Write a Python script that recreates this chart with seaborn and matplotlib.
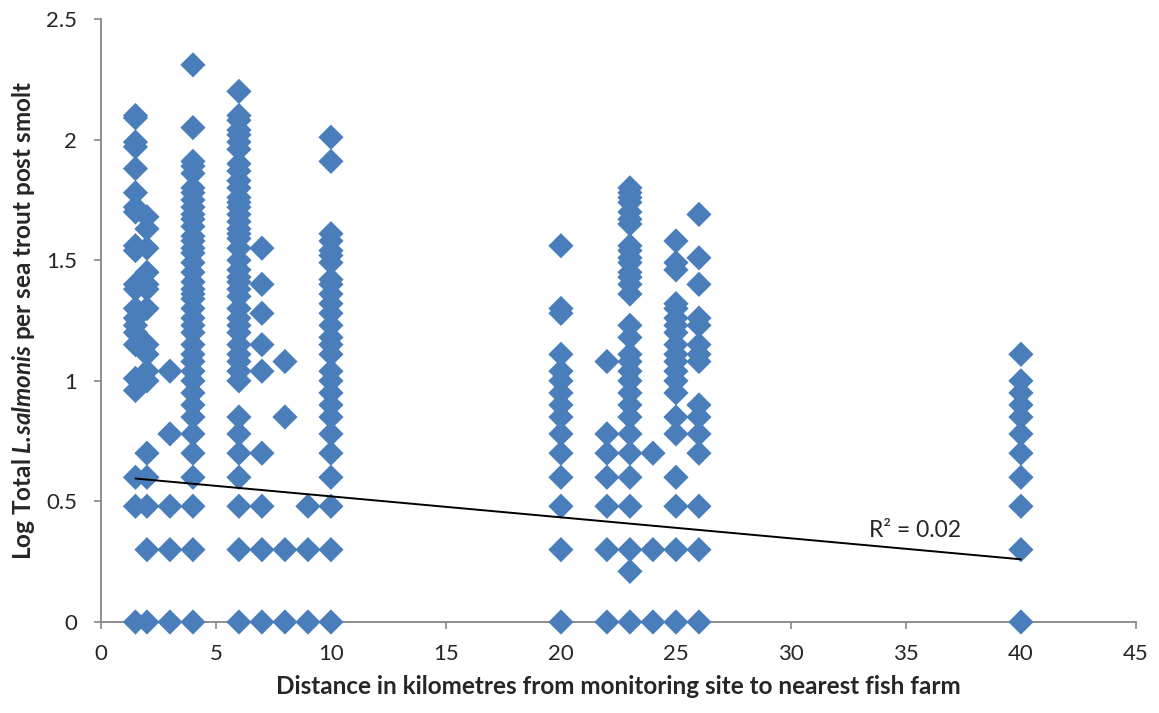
import numpy as np
import pandas as pd
import matplotlib
matplotlib.use("Agg")
import matplotlib.pyplot as plt
import seaborn as sns

# log total lice per fish, grouped by distance (km) to nearest farm
y_1p5 = [2.10, 2.09, 1.99, 1.97, 1.88, 1.78, 1.72, 1.70, 1.56, 1.54, 1.40, 1.38,
         1.30, 1.26, 1.23, 1.20, 1.15, 1.01, 0.96, 0.60, 0.48, 0.0]
y_2 = [1.68, 1.63, 1.55, 1.45, 1.40, 1.38, 1.30, 1.15, 1.11, 1.04, 1.00, 0.70,
       0.60, 0.48, 0.30, 0.0]
y_3 = [1.04, 0.78, 0.48, 0.30, 0.0]
y_4 = [2.31, 2.05, 1.91, 1.89, 1.86, 1.80, 1.78, 1.75, 1.72, 1.69, 1.67, 1.64,
       1.60, 1.58, 1.55, 1.53, 1.49, 1.45, 1.41, 1.38, 1.36, 1.34, 1.30, 1.26,
       1.23, 1.20, 1.15, 1.11, 1.08, 1.04, 1.00, 0.95, 0.90, 0.85, 0.78, 0.70,
       0.60, 0.48, 0.30, 0.0]
y_6 = [2.20, 2.10, 2.08, 2.04, 2.02, 1.99, 1.96, 1.90, 1.87, 1.83, 1.80, 1.76,
       1.74, 1.72, 1.69, 1.66, 1.63, 1.61, 1.59, 1.55, 1.50, 1.46, 1.43, 1.41,
       1.38, 1.35, 1.30, 1.26, 1.23, 1.20, 1.15, 1.11, 1.08, 1.04, 1.00, 0.85,
       0.78, 0.70, 0.60, 0.48, 0.30, 0.0]
y_7 = [1.55, 1.40, 1.28, 1.15, 1.04, 0.70, 0.48, 0.30, 0.0]
y_8 = [1.08, 0.85, 0.30, 0.0]
y_9 = [0.48, 0.30, 0.0]
y_10 = [2.01, 1.91, 1.61, 1.58, 1.54, 1.52, 1.49, 1.42, 1.40, 1.36, 1.32, 1.28,
        1.23, 1.18, 1.15, 1.11, 1.04, 1.00, 0.95, 0.90, 0.85, 0.78, 0.70, 0.60,
        0.48, 0.30, 0.0]
y_20 = [1.56, 1.30, 1.28, 1.11, 1.04, 1.00, 0.95, 0.90, 0.85, 0.78, 0.70, 0.60,
        0.48, 0.30, 0.0]
y_22 = [1.08, 0.78, 0.70, 0.60, 0.48, 0.30, 0.0]
y_23 = [1.80, 1.78, 1.76, 1.74, 1.70, 1.67, 1.65, 1.56, 1.54, 1.51, 1.49, 1.45,
        1.43, 1.40, 1.36, 1.23, 1.18, 1.11, 1.08, 1.04, 1.00, 0.95, 0.90, 0.85,
        0.78, 0.70, 0.60, 0.48, 0.30, 0.21, 0.0]
y_24 = [0.70, 0.30, 0.0]
y_25 = [1.58, 1.49, 1.46, 1.32, 1.30, 1.26, 1.23, 1.20, 1.15, 1.11, 1.08, 1.04,
        1.00, 0.95, 0.85, 0.78, 0.60, 0.48, 0.30, 0.0]
y_26 = [1.69, 1.51, 1.40, 1.26, 1.23, 1.15, 1.11, 1.08, 0.90, 0.85, 0.78, 0.70,
        0.48, 0.30, 0.0]
y_40 = [1.11, 1.00, 0.95, 0.90, 0.85, 0.78, 0.70, 0.60, 0.48, 0.30, 0.0]

distances = [1.5, 2, 3, 4, 6, 7, 8, 9, 10, 20, 22, 23, 24, 25, 26, 40]
columns = [y_1p5, y_2, y_3, y_4, y_6, y_7, y_8, y_9, y_10, y_20, y_22, y_23,
           y_24, y_25, y_26, y_40]

# linear trendline as shown on the chart
trend_intercept = 0.608
trend_slope = -0.0087
r2_text = "R² = 0.02"

x_ticks = [0, 5, 10, 15, 20, 25, 30, 35, 40, 45]
y_ticks = [0, 0.5, 1, 1.5, 2, 2.5]
y_tick_labels = ["0", "0.5", "1", "1.5", "2", "2.5"]

df = pd.DataFrame({
    "distance": np.concatenate([[d] * len(c) for d, c in zip(distances, columns)]),
    "log_lice": np.concatenate(columns),
})

sns.set_style("white")
plt.rcParams["font.family"] = ["Lato", "DejaVu Sans"]
plt.rcParams["mathtext.fontset"] = "custom"
plt.rcParams["mathtext.bfit"] = "Lato:bold:italic"
plt.rcParams["mathtext.bf"] = "Lato:bold"

fig = plt.figure(figsize=(11.59, 7.13), dpi=100)
ax = fig.add_axes([0.0871, 0.1276, 0.8930, 0.8457])

sns.scatterplot(data=df, x="distance", y="log_lice", marker="D", s=165,
                color="#4a7ebb", edgecolor="none", ax=ax, zorder=3)

tx = np.array([min(distances), max(distances)])
ax.plot(tx, trend_intercept + trend_slope * tx, color="black", lw=1.4, zorder=4)
ax.text(35.4, 0.38, r2_text, ha="center", va="center", fontsize=16.5, zorder=5)

ax.set_xlim(0, 45)
ax.set_ylim(0, 2.5)
ax.set_xticks(x_ticks)
ax.set_yticks(y_ticks)
ax.set_yticklabels(y_tick_labels)
ax.tick_params(axis="both", labelsize=16, direction="out", length=5, width=1.2,
               color="#868686", left=True, bottom=True)
ax.tick_params(axis="x", pad=10.5)
ax.tick_params(axis="y", pad=12)

for side in ["top", "right"]:
    ax.spines[side].set_visible(False)
for side in ["left", "bottom"]:
    ax.spines[side].set_color("#868686")
    ax.spines[side].set_linewidth(1.3)

ax.set_xlabel("Distance in kilometres from monitoring site to nearest fish farm",
              fontsize=17.5, fontweight="bold", labelpad=8)
ax.set_ylabel(r"Log Total $\mathbfit{L.\!salmonis}$ per sea trout post smolt",
              fontsize=17.5, fontweight="bold", labelpad=7)
for c in ax.collections:
    c.set_clip_on(False)

fig.savefig("out.png", dpi=100)
